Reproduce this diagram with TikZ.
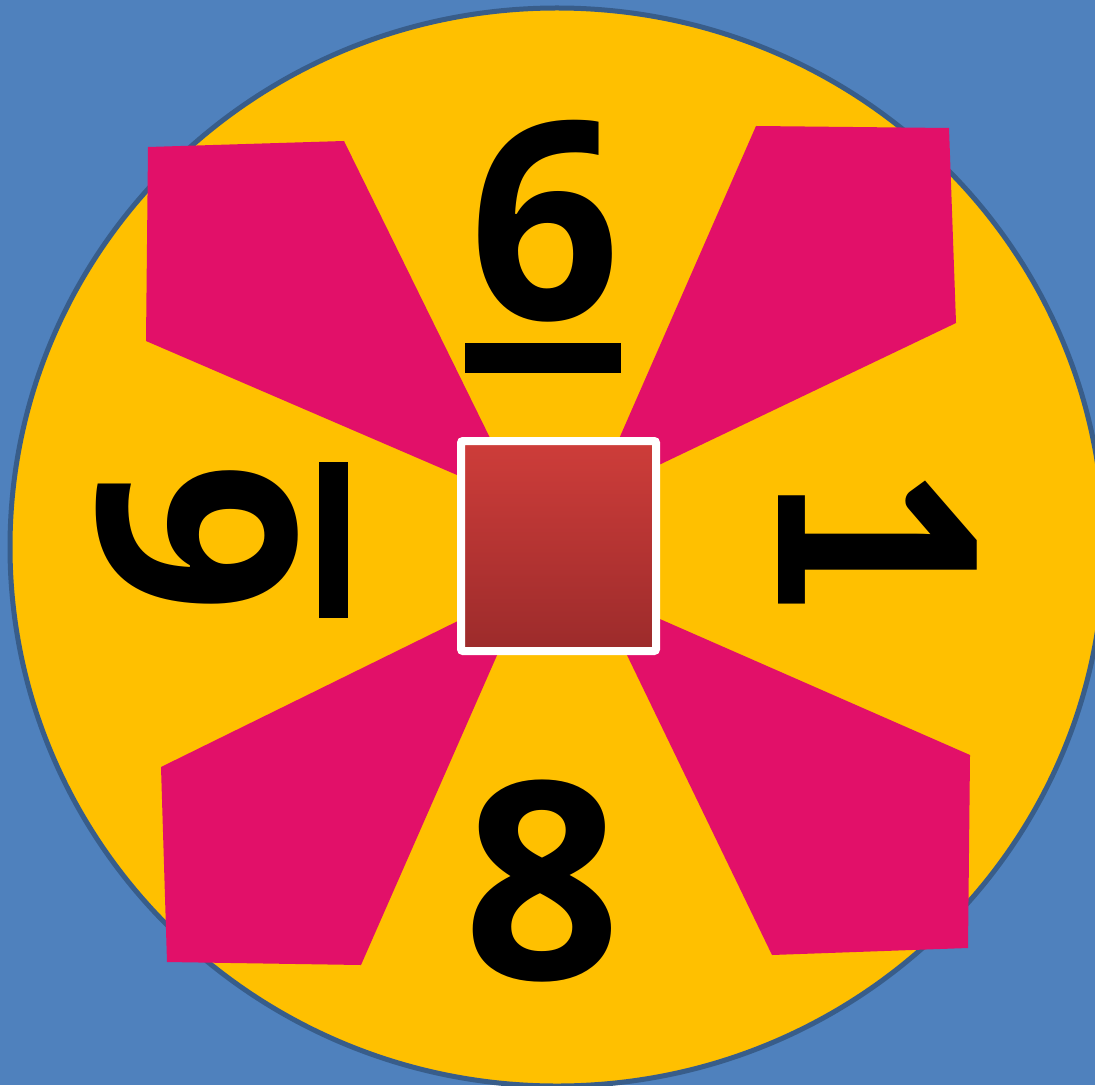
\documentclass[tikz,border=0pt]{standalone}
\usepackage{fontspec}
\newfontfamily\digitfont{Open Sans}
\newfontfamily\onefont{Carlito}
\definecolor{bgblue}{RGB}{79,129,189}
\definecolor{rimblue}{RGB}{56,93,138}
\definecolor{dialyellow}{RGB}{255,192,0}
\definecolor{petalpink}{RGB}{226,16,105}
\definecolor{boxtop}{RGB}{206,61,58}
\definecolor{boxbot}{RGB}{156,43,43}

\begin{document}
\begin{tikzpicture}[
    x=0.5pt, y=-0.5pt,
    petal/.style={fill=petalpink},
    digit/.style={inner sep=0pt, font=\digitfont\bfseries\fontsize{138}{140}\selectfont},
    onedigit/.style={inner sep=0pt, font=\onefont\bfseries\fontsize{153}{155}\selectfont},
    bar/.style={fill=black}
]
    \useasboundingbox (0,0) rectangle (1095,1085);
    \clip (0,0) rectangle (1095,1085);
    \fill[bgblue] (0,0) rectangle (1095,1085);
    \draw[rimblue, line width=2.5pt, fill=dialyellow] (557,547) ellipse [x radius=547, y radius=539];

    % petals
    \fill[petal] (148,147) -- (344,141) -- (522,503) -- (146,341) -- cycle;
    \fill[petal] (756,126) -- (949,128) -- (956,323) -- (594,496) -- cycle;
    \fill[petal] (970,755) -- (968,948) -- (772,955) -- (596,591) -- cycle;
    \fill[petal] (161,767) -- (527,587) -- (361,965) -- (167,962) -- cycle;

    % centre box
    \draw[white, line width=4pt, rounded corners=1pt, top color=boxtop, bottom color=boxbot] (461,441) rectangle (656,651);

    % digits
    \node[digit, xscale=0.96] (six) at (545,221) {6};
    \fill[bar] (465,343) rectangle (621,373);
    \node[digit, rotate=90, xscale=0.96] (sixleft) at (197,538) {6};
    \fill[bar] (319,462) rectangle (348,618);
    \node[onedigit, rotate=-90] (one) at (878,538) {1};
    \node[digit] (eight) at (542,881) {8};
\end{tikzpicture}
\end{document}
